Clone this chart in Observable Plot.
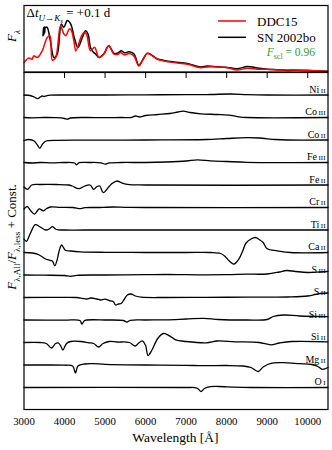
<!DOCTYPE html>
<html><head><meta charset="utf-8">
<script src="https://cdn.jsdelivr.net/npm/d3@7"></script>
<script src="https://cdn.jsdelivr.net/npm/@observablehq/plot@0.6"></script>
<style>
body{margin:0;background:#fff}
#c{position:relative;width:332px;height:450px;overflow:hidden}
#c svg{position:absolute;left:0}
</style>
</head><body><div id="c"></div>
<script>
// ---------- DATA ----------
const xTicks = [3000,4000,5000,6000,7000,8000,9000,10000];
const seriesNames = ["DDC15","SN 2002bo"];
const scaleFactorText = "0.96";
const phaseText = "+0.1 d";

// top panel: F_lambda (arbitrary units)
const ddc15 = [[3000,9.3],[3120,14],[3200,12.7],[3240,16],[3330,14.3],[3450,21],[3570,34],[3640,36],[3700,11.7],[3780,14],[3900,46],[3980,38],[4030,36],[4120,42.7],[4160,42],[4230,31],[4280,21],[4400,34],[4480,39.3],[4540,37.7],[4640,21],[4740,24.5],[4850,14.3],[4970,17.7],[5090,26],[5220,17.7],[5320,17.7],[5380,19.3],[5480,17],[5590,18.3],[5710,16],[5835,6],[5920,11],[6040,18.3],[6165,16],[6290,12.7],[6450,11],[6700,9.3],[7030,7.7],[7360,4.3],[7520,5],[7770,5],[8020,4.3],[8260,2],[8510,3.7],[8760,2.7],[9000,2.7],[9250,2],[9580,2],[9990,1.7],[10490,0.7]];
const sn2002bo = [[3470,36],[3480,44],[3490,37],[3500,45],[3510,39],[3525,44],[3570,44.3],[3650,31],[3740,14.3],[3820,17.7],[3920,47.7],[3980,44.3],[4070,51],[4150,47.7],[4250,32.7],[4330,24.3],[4440,34.3],[4520,41],[4580,37.7],[4640,24.3],[4700,20],[4770,17.7],[4850,14.3],[4970,18],[5090,26],[5220,18.5],[5320,19],[5400,21],[5480,19],[5590,20],[5710,18],[5835,6.5],[5920,11.5],[6040,18.5],[6165,16.5],[6290,13],[6450,11.5],[6700,10],[7030,8.5],[7360,5],[7520,6],[7770,5.2],[8020,4.5],[8260,3.2],[8510,5.5],[8760,4],[9000,2.8],[9250,2.3],[9500,1.6],[9750,1.8],[10000,1.4],[10490,0.7]];

// bottom panel: F_lambda,All / F_lambda,less  (wavelength, ratio)
const NiII  = [[3000,1.0],[3150,0.995],[3250,0.98],[3340,0.963],[3400,0.98],[3450,0.99],[3500,0.985],[3550,0.992],[3650,0.998],[4000,1.0],[5000,1.0],[6000,1.002],[7000,1.003],[7600,1.005],[8100,1.01],[8500,1.004],[9000,1.0],[10500,1.0]];
const CoIII = [[3000,1.0],[3200,0.997],[3500,1.0],[3800,0.998],[4000,0.99],[4070,0.983],[4150,0.995],[4500,1.0],[5000,0.998],[5400,1.0],[5650,1.0],[5750,1.015],[5850,1.005],[6000,1.02],[6300,1.03],[6600,1.04],[6800,1.055],[6930,1.063],[7100,1.05],[7360,1.037],[7770,1.03],[8100,1.022],[8300,1.007],[8500,1.0],[10500,1.0]];
const CoII  = [[3000,0.995],[3120,1.005],[3250,0.99],[3330,0.95],[3390,0.917],[3450,0.955],[3520,0.985],[3600,0.994],[3800,0.997],[4500,0.998],[6000,1.0],[7500,1.005],[8000,1.015],[8500,1.023],[8800,1.02],[9200,1.005],[9500,1.0],[10500,1.0]];
const FeIII = [[3000,1.0],[3200,0.995],[3400,1.0],[3700,0.996],[4000,1.0],[4250,0.995],[4300,0.977],[4360,0.998],[4600,1.0],[4900,0.997],[5000,0.984],[5100,0.996],[5400,1.0],[6000,1.0],[6500,1.005],[7000,1.015],[7280,1.027],[7600,1.017],[8000,1.01],[8500,1.002],[10500,1.0]];
const FeII  = [[3000,0.98],[3090,0.957],[3190,1.0],[3400,1.005],[3800,1.005],[4100,1.0],[4190,0.99],[4350,0.963],[4500,0.99],[4630,1.0],[4720,0.957],[4800,0.985],[4870,0.99],[4955,0.923],[5100,0.985],[5180,1.017],[5300,1.04],[5400,1.023],[5550,1.007],[6000,1.0],[10500,1.0]];
const CrII  = [[3000,0.985],[3080,1.01],[3160,0.97],[3260,0.933],[3370,0.985],[3480,0.967],[3560,0.99],[3650,1.005],[3900,1.002],[4200,1.0],[4400,0.988],[4500,0.998],[4800,1.0],[5200,1.005],[5500,1.002],[6000,1.0],[10500,1.0]];
const TiII  = [[3000,0.91],[3060,0.887],[3150,0.96],[3280,1.053],[3400,1.03],[3530,1.0],[3620,1.01],[3700,1.033],[3800,1.005],[4000,1.0],[4500,1.0],[10500,1.0]];
const CaII  = [[3000,1.0],[3200,0.995],[3330,0.983],[3450,0.957],[3530,0.935],[3650,0.92],[3700,0.915],[3760,0.867],[3820,0.93],[3870,1.02],[3930,1.075],[4020,1.023],[4150,1.015],[4400,1.007],[5000,1.002],[6000,1.0],[7000,1.0],[7600,1.0],[7850,0.99],[7950,0.965],[8060,0.917],[8180,0.883],[8300,0.933],[8400,1.02],[8470,1.09],[8600,1.135],[8715,1.15],[8800,1.13],[8900,1.1],[9000,1.037],[9250,1.017],[9580,1.0],[10500,1.0]];
const SIII  = [[3000,1.0],[3500,0.998],[4000,0.995],[4150,0.987],[4300,0.997],[5000,1.0],[6000,1.003],[6500,1.005],[7000,1.003],[7500,1.002],[8000,1.003],[8500,1.008],[9000,1.01],[9300,1.03],[9480,1.045],[9700,1.035],[10000,1.025],[10300,1.03],[10500,1.035]];
const SII   = [[3000,1.0],[4000,1.002],[4300,1.0],[4450,0.99],[4550,0.985],[4650,0.995],[4800,0.985],[4890,0.975],[5000,0.983],[5100,0.97],[5200,0.96],[5260,0.925],[5330,0.935],[5400,0.94],[5470,0.98],[5550,1.025],[5640,1.035],[5750,1.015],[5900,1.003],[6500,1.0],[7500,1.002],[8500,1.003],[9500,1.005],[10000,1.015],[10300,1.04],[10500,1.045]];
const SiIII = [[3000,1.0],[4000,0.998],[4380,0.995],[4430,0.958],[4480,0.99],[4550,1.0],[5000,1.0],[5450,0.995],[5540,0.98],[5620,0.997],[6000,1.0],[6500,1.002],[7000,1.01],[7440,1.017],[7800,1.005],[8500,1.0],[9000,1.005],[9150,1.035],[9400,1.05],[9800,1.04],[10500,1.033]];
const SiII  = [[3000,1.0],[3400,1.0],[3550,0.99],[3680,0.945],[3780,0.99],[3850,0.995],[3900,0.97],[3960,0.925],[4050,0.99],[4150,1.01],[4400,1.01],[4600,0.997],[4720,0.99],[4840,0.955],[4950,0.99],[5100,1.01],[5300,1.005],[5600,1.0],[5740,0.965],[5830,0.995],[5920,1.017],[6000,0.97],[6060,0.87],[6150,0.92],[6300,1.04],[6440,1.09],[6590,1.067],[6740,1.027],[7000,1.01],[7500,0.997],[7770,1.015],[8200,1.007],[8800,1.0],[9090,0.977],[9300,0.995],[9600,1.01],[10500,1.007]];
const MgII  = [[3000,1.0],[3500,1.0],[4000,0.998],[4200,0.99],[4270,0.92],[4330,0.99],[4500,1.01],[4700,1.013],[5000,1.007],[6000,1.0],[7000,0.997],[7400,0.993],[8000,0.995],[8400,0.99],[8600,0.975],[8780,0.935],[8900,0.98],[9090,1.017],[9400,1.023],[9800,1.013],[10100,1.005],[10250,0.985],[10360,0.957],[10500,0.975]];
const OI    = [[3000,1.0],[7000,1.0],[7250,0.997],[7300,0.985],[7370,0.96],[7450,0.99],[7600,1.008],[7800,1.01],[8200,1.003],[8600,1.0],[10500,1.0]];

const elements = ["Ni","Co","Co","Fe","Fe","Cr","Ti","Ca","S","S","Si","Si","Mg","O"];
const ions     = ["II","III","II","III","II","II","II","II","III","II","III","II","II","I"];
const ratios   = [NiII,CoIII,CoII,FeIII,FeII,CrII,TiII,CaII,SIII,SII,SiIII,SiII,MgII,OI];
const constStep = 0.225;

// ---------- BUILD ----------
const FONT = "Liberation Serif";
const container = document.getElementById("c");
const nSp = ratios.length;
const rows = ratios.flatMap((arr,i)=>arr.map(([w,r])=>({w, y: r + (nSp-1-i)*constStep, k:i})));
const bases = ratios.map((_,i)=>({k:i, y: 1 + (nSp-1-i)*constStep}));

const topPlot = Plot.plot({
  width:332, height:72, marginLeft:23.5, marginRight:4.5, marginTop:5, marginBottom:0.5,
  style:{background:"transparent", overflow:"visible"},
  x:{domain:[3000,10500], axis:null},
  y:{domain:[0,66], axis:null},
  marks:[
    Plot.line(sn2002bo,{x:d=>d[0], y:d=>d[1], stroke:"black", strokeWidth:1.5, curve:"catmull-rom"}),
    Plot.line(ddc15,{x:d=>d[0], y:d=>d[1], stroke:"#ff0000", strokeWidth:1.5, curve:"catmull-rom"}),
    Plot.frame({stroke:"black", strokeWidth:1.2})
  ]
});
topPlot.setAttribute("font-family", FONT);
topPlot.style.top = "0px";
container.appendChild(topPlot);

const botPlot = Plot.plot({
  width:332, height:380, marginLeft:23.5, marginRight:4.5, marginTop:2, marginBottom:41,
  style:{background:"transparent", overflow:"visible"},
  x:{domain:[3000,10500], axis:null},
  y:{domain:[0.78,4.15], axis:null},
  marks:[
    Plot.line(rows,{x:"w", y:"y", z:"k", stroke:"black", strokeWidth:1.3, curve:"catmull-rom"}),
    Plot.axisX({anchor:"bottom", ticks:xTicks, tickSize:0, tickPadding:7.5, fontSize:10.8, fontFamily:FONT, label:null, tickFormat:d=>String(d)}),
    Plot.axisX({anchor:"top", ticks:xTicks.slice(1), tickSize:-5, tickFormat:()=>"", label:null, strokeWidth:1}),
    Plot.frame({stroke:"black", strokeWidth:1.2})
  ]
});
botPlot.setAttribute("font-family", FONT);
botPlot.style.top = "70px";
container.appendChild(botPlot);

// rich text helper: parts = [text, {i:italic, s:level}]
function rich(sel, parts, size){
  let cur = 0;
  for (const [t,o={}] of parts){
    const lvl = o.s||0;
    const off = lvl===1 ? 0.28*size : lvl===2 ? 0.45*size : 0;
    const fs = o.fs || (lvl===0 ? size : lvl===1 ? size*0.7 : size*0.55);
    sel.append("tspan").attr("dy", (off-cur).toFixed(2)).attr("font-size", fs)
      .attr("font-style", o.i ? "italic" : null).text(t);
    cur = off;
  }
  return sel;
}

// top overlays
const g1 = d3.select(topPlot).append("g").attr("fill","black").attr("text-anchor","start").attr("font-family",FONT);
rich(g1.append("text").attr("x",26.5).attr("y",17), [["Δ"],["t",{i:1}],["U",{s:1,i:1}],["→",{s:1}],["K",{s:1,i:1}],["s",{s:2,i:1}],[" = "+phaseText]], 13);
const legendItems = [{name:seriesNames[0], color:"#ff0000", y:21},{name:seriesNames[1], color:"black", y:37.3}];
for (const it of legendItems){
  g1.append("line").attr("x1",218).attr("x2",246).attr("y1",it.y).attr("y2",it.y).attr("stroke",it.color).attr("stroke-width",1.5);
  g1.append("text").attr("x",257).attr("y",it.y+4.5).attr("font-size",13).text(it.name);
}
rich(g1.append("text").attr("x",315).attr("y",56).attr("text-anchor","end").attr("fill","#339933"),
  [["F",{i:1}],["scl",{s:1}],[" = "+scaleFactorText,{fs:11.5}]], 11.5);
rich(g1.append("text").attr("transform","translate(16,36) rotate(-90)").attr("text-anchor","middle"),
  [["F",{i:1}],["λ",{s:1,i:1}]], 13);

// bottom overlays
const bx = d3.scaleLinear(botPlot.scale("x").domain, botPlot.scale("x").range);
const by = d3.scaleLinear(botPlot.scale("y").domain, botPlot.scale("y").range);
const g2 = d3.select(botPlot).append("g").attr("fill","black").attr("text-anchor","start").attr("font-family",FONT);
bases.forEach(b=>{
  const t = g2.append("text").attr("x", bx(10500)-2).attr("y", by(b.y)-2).attr("text-anchor","end").attr("font-size",10);
  t.append("tspan").text(elements[b.k]);
  t.append("tspan").attr("font-size",7).attr("dx",1.5).text(ions[b.k]);
});
g2.append("text").attr("x", bx(6750)).attr("y", 372).attr("text-anchor","middle").attr("font-size",13.5).text("Wavelength [Å]");
rich(g2.append("text").attr("transform","translate(16,167) rotate(-90)").attr("text-anchor","middle"),
  [["F",{i:1}],["λ,All",{s:1}],["/"],["F",{i:1}],["λ,less",{s:1}],[" + Const."]], 13);
</script>
</body></html>
